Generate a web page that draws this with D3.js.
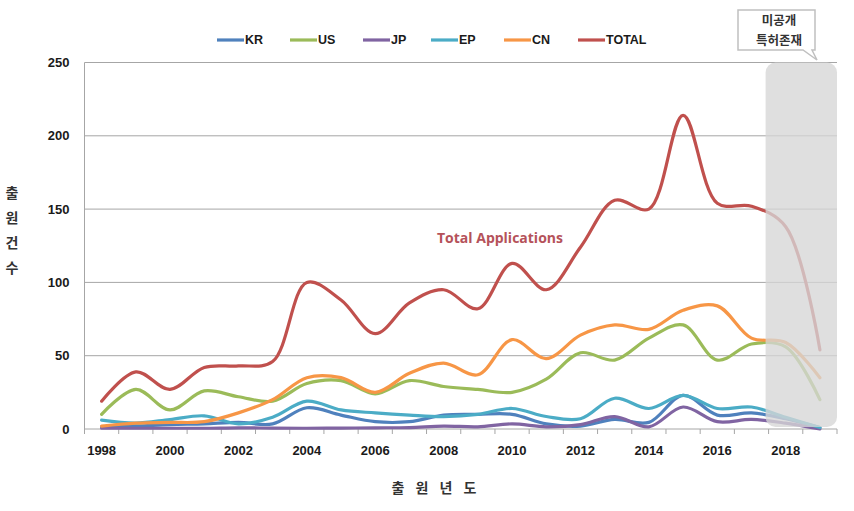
<!DOCTYPE html>
<html>
<head>
<meta charset="utf-8">
<script src="https://cdn.jsdelivr.net/npm/d3@7"></script>
<style>
  html, body { margin: 0; padding: 0; background: #fff; }
  svg { display: block; }
  .num { font-family: "Liberation Sans", Arial, sans-serif; font-weight: bold; font-size: 13px; fill: #1a1a1a; }
  .kr { font-family: "Noto Sans CJK KR", sans-serif; fill: #1a1a1a; }
</style>
</head>
<body>
<svg id="chart" width="854" height="511"></svg>
<script>
// ---- data ----
const years = [1998,1999,2000,2001,2002,2003,2004,2005,2006,2007,2008,2009,2010,2011,2012,2013,2014,2015,2016,2017,2018,2019];
const xTickLabels = [1998,2000,2002,2004,2006,2008,2010,2012,2014,2016,2018];
const yTicks = [0,50,100,150,200,250];
const seriesNames = ["KR","US","JP","EP","CN","TOTAL"];
const seriesColors = ["#4f81bd","#9bbb59","#8064a2","#4bacc6","#f79646","#c0504d"];
const KR    = [1.5, 2, 3, 3.5, 4.5, 3.5, 14.5, 9.5, 5, 5, 9.5, 10, 10, 3.5, 2, 6.5, 4.5, 23, 9.5, 11, 7, 1];
const US    = [10, 27, 13, 26, 22, 19, 31, 33, 24, 33, 29, 27, 25, 34, 52, 47, 62, 71, 47, 58, 56, 20];
const JP    = [0.5, 0.5, 0.5, 0.5, 0.8, 0.6, 0.5, 0.6, 0.8, 1, 2, 1.5, 3.5, 1.5, 3, 8.5, 1.5, 15, 5, 6.5, 4, 0];
const EP    = [6, 4, 6.5, 9, 3.5, 8, 19, 13, 11, 9.5, 8.5, 10, 14, 8.5, 7, 21, 14, 23, 14, 15, 8, 1];
const CN    = [2, 4, 4.5, 5, 11, 20, 35, 35, 25, 38, 45, 37, 61, 48, 64, 71, 68, 81, 84, 62, 59, 35];
const TOTAL = [19, 39, 27, 42, 43, 46, 100, 88, 65, 86, 95, 82, 113, 95, 124, 156, 150, 214, 154, 152, 138, 54];
const seriesValues = [KR, US, JP, EP, CN, TOTAL];
const shadedYears = [2018, 2019];
const calloutLines = ["미공개", "특허존재"];
const annotationText = "Total Applications";
const yTitle = ["출","원","건","수"];
const xTitle = ["출","원","년","도"];

// ---- layout ----
const svg = d3.select("#chart");
const plotL = 84.5, plotR = 837, plotT = 62.5, plotB = 429;
const x = d3.scaleBand().domain(years).range([plotL, plotR]).padding(0);
const bw = x.bandwidth();
const cx = yr => x(yr) + bw / 2;
const y = d3.scaleLinear().domain([0, 250]).range([plotB, plotT]);

// gridlines
svg.append("g").selectAll("line").data(yTicks.filter(d => d > 0)).join("line")
  .attr("x1", plotL).attr("x2", plotR)
  .attr("y1", d => y(d)).attr("y2", d => y(d))
  .attr("stroke", "#a6a6a6").attr("stroke-width", 1);

// y axis line
svg.append("line").attr("x1", plotL).attr("x2", plotL).attr("y1", plotT).attr("y2", plotB)
  .attr("stroke", "#a6a6a6").attr("stroke-width", 1);

// y tick labels
const yAxis = d3.axisLeft(y).tickValues(yTicks).tickSize(0).tickPadding(0);
const gy = svg.append("g").attr("transform", `translate(${plotL - 15},0)`).call(yAxis);
gy.select(".domain").remove();
gy.attr("font-size", null).attr("font-family", null);
gy.selectAll("text").attr("class", "num").attr("fill", null);

// x axis line + boundary ticks
svg.append("line").attr("x1", plotL).attr("x2", plotR).attr("y1", plotB).attr("y2", plotB)
  .attr("stroke", "#a6a6a6").attr("stroke-width", 1);
const boundaries = years.map(yr => x(yr)).concat([x(years[years.length - 1]) + bw]);
svg.append("g").selectAll("line").data(boundaries).join("line")
  .attr("x1", d => d).attr("x2", d => d).attr("y1", plotB).attr("y2", plotB + 5)
  .attr("stroke", "#a6a6a6").attr("stroke-width", 1);

// x tick labels
const xAxis = d3.axisBottom(x).tickValues(xTickLabels).tickSize(0).tickPadding(0);
const gx = svg.append("g").attr("transform", `translate(0,${plotB + 21})`).call(xAxis);
gx.select(".domain").remove();
gx.attr("font-size", null).attr("font-family", null);
gx.selectAll("text").attr("class", "num").attr("fill", null)
  .attr("dy", "0.35em").attr("y", 0);

// lines
const line = d3.line()
  .x((d, i) => cx(years[i]))
  .y(d => y(d))
  .curve(d3.curveCatmullRom.alpha(0.5));
svg.append("g").selectAll("path").data(seriesValues).join("path")
  .attr("d", d => line(d))
  .attr("fill", "none")
  .attr("stroke", (d, i) => seriesColors[i])
  .attr("stroke-width", 3.2)
  .attr("stroke-linejoin", "round")
  .attr("stroke-linecap", "round");

// shaded (unpublished) region
const sx0 = x(shadedYears[0]) - 3;
const sx1 = x(shadedYears[shadedYears.length - 1]) + bw;
svg.append("rect")
  .attr("x", sx0).attr("y", plotT).attr("width", sx1 - sx0).attr("height", plotB - 2 - plotT)
  .attr("rx", 10).attr("ry", 10)
  .attr("fill", "#d6d6d6").attr("fill-opacity", 0.78);

// annotation
svg.append("text").attr("x", 500).attr("y", 238).attr("dy", "0.35em")
  .attr("text-anchor", "middle")
  .attr("font-family", "\"Open Sans\", \"Liberation Sans\", sans-serif")
  .attr("font-weight", "bold").attr("font-size", 14)
  .attr("fill", "#b5525a")
  .text(annotationText);

// callout box
svg.append("path")
  .attr("d", "M738,10 H815 V50 H812 L817,60 L803,50 H738 Z")
  .attr("fill", "#fff").attr("stroke", "#c0c0c0").attr("stroke-width", 1.5);
svg.append("g").selectAll("text").data(calloutLines).join("text")
  .attr("class", "kr")
  .attr("x", 779).attr("y", (d, i) => 21 + i * 20).attr("dy", "0.35em")
  .attr("text-anchor", "middle").attr("font-size", 12.5).attr("font-weight", "bold")
  .style("fill", "#333")
  .text(d => d);

// legend
const legendX = [217, 290, 363, 431, 504, 578];
const lg = svg.append("g").selectAll("g").data(seriesNames).join("g")
  .attr("transform", (d, i) => `translate(${legendX[i]},40)`);
lg.append("line").attr("x1", 0).attr("x2", 27).attr("y1", 0).attr("y2", 0)
  .attr("stroke", (d, i) => seriesColors[i]).attr("stroke-width", 3.2);
lg.append("text").attr("class", "num").attr("x", 28).attr("dy", "0.35em")
  .style("font-size", "12.5px")
  .text(d => d);

// y title (stacked)
svg.append("g").selectAll("text").data(yTitle).join("text")
  .attr("class", "kr")
  .attr("x", 12).attr("y", (d, i) => 193 + i * 25).attr("dy", "0.35em")
  .attr("text-anchor", "middle").attr("font-size", 14).attr("font-weight", "bold")
  .style("fill", "#333")
  .text(d => d);

// x title
svg.append("g").selectAll("text").data(xTitle).join("text")
  .attr("class", "kr")
  .attr("x", (d, i) => 398 + i * 24).attr("y", 488).attr("dy", "0.35em")
  .attr("text-anchor", "middle").attr("font-size", 14).attr("font-weight", "bold")
  .style("fill", "#333")
  .text(d => d);
</script>
</body>
</html>
